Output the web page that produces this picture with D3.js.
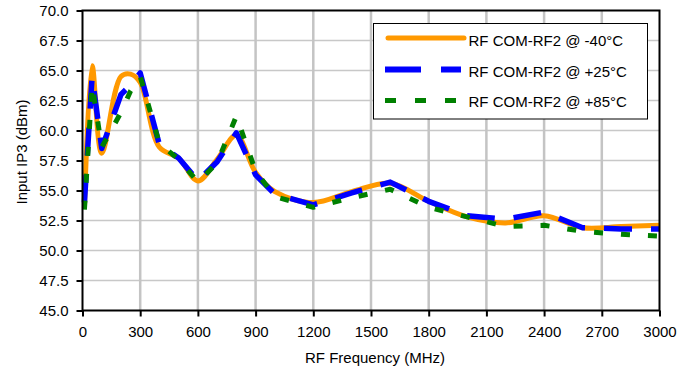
<!DOCTYPE html>
<html>
<head>
<meta charset="utf-8">
<script src="https://cdn.jsdelivr.net/npm/d3@7"></script>
<style>
  html, body { margin: 0; padding: 0; background: #fff; }
  svg { display: block; }
  text { font-family: "Liberation Sans", Arial, sans-serif; fill: #000; }
</style>
</head>
<body>
<svg id="chart" width="694" height="374"></svg>
<script>
// ---- data ----
const freqs = [10, 50, 100, 200, 250, 300, 400, 500, 600, 700, 800, 900, 1000, 1200, 1400, 1600, 1800, 2000, 2200, 2400, 2600, 2800, 3000];
const ip3_m40 = [53.5, 65.4, 58.1, 64.5, 64.7, 64.0, 58.6, 57.7, 55.8, 57.6, 59.6, 56.5, 54.9, 54.0, 54.9, 55.6, 54.1, 52.8, 52.3, 52.9, 51.9, 52.0, 52.1];
const ip3_p25 = [54.0, 64.5, 58.5, 63.0, 63.8, 64.8, 58.8, 57.7, 55.8, 57.4, 59.8, 56.3, 54.7, 53.8, 54.8, 55.7, 54.1, 52.9, 52.6, 53.2, 51.9, 51.8, 51.8];
const ip3_p85 = [53.4, 63.8, 58.6, 61.5, 63.3, 64.5, 58.9, 57.6, 55.7, 57.3, 61.2, 56.6, 54.5, 53.6, 54.4, 55.1, 53.6, 52.8, 52.0, 52.1, 51.6, 51.35, 51.2];
const seriesNames = ["RF COM-RF2 @ -40°C", "RF COM-RF2 @ +25°C", "RF COM-RF2 @ +85°C"];
const xTicks = [0, 300, 600, 900, 1200, 1500, 1800, 2100, 2400, 2700, 3000];
const yTicks = [45, 47.5, 50, 52.5, 55, 57.5, 60, 62.5, 65, 67.5, 70];
const xTitle = "RF Frequency (MHz)";
const yTitle = "Input IP3 (dBm)";

// ---- layout ----
const L = 82.5, R = 659.5, T = 10.5, B = 310.5;
const svg = d3.select("#chart");
const x = d3.scaleLinear().domain([0, 3000]).range([L, R]);
const y = d3.scaleLinear().domain([45, 70]).range([B, T]);

// grid
svg.append("g").selectAll("line").data(yTicks.slice(1, -1)).join("line")
  .attr("x1", L).attr("x2", R).attr("y1", d => y(d)).attr("y2", d => y(d))
  .attr("stroke", "#c8c8c8").attr("stroke-width", 1.5);
svg.append("g").selectAll("line").data(xTicks.slice(1, -1)).join("line")
  .attr("y1", T).attr("y2", B).attr("x1", d => x(d)).attr("x2", d => x(d))
  .attr("stroke", "#c4c4c4").attr("stroke-width", 2.5);

// axes
const xAxis = svg.append("g").attr("transform", `translate(0,${B})`)
  .call(d3.axisBottom(x).tickValues(xTicks).tickFormat(d3.format("d")).tickSize(6).tickPadding(10));
const yAxis = svg.append("g").attr("transform", `translate(${L},0)`)
  .call(d3.axisLeft(y).tickValues(yTicks).tickFormat(d3.format(".1f")).tickSize(6).tickPadding(8));
[xAxis, yAxis].forEach(a => {
  a.select(".domain").remove();
  a.selectAll("line").attr("stroke", "#000").attr("stroke-width", 2);
  a.selectAll("text").attr("font-size", 15).attr("fill", "#000")
    .style("font-family", '"Liberation Sans", Arial, sans-serif');
});

// series
const series = [
  { name: seriesNames[0], vals: ip3_m40, color: "#ff9900", dash: null, curve: d3.curveCatmullRom.alpha(0.5), w: 5 },
  { name: seriesNames[1], vals: ip3_p25, color: "#0000ff", dash: "28,19", curve: d3.curveLinear, w: 5.5 },
  { name: seriesNames[2], vals: ip3_p85, color: "#008000", dash: "9,18", curve: d3.curveLinear, w: 5 }
];
series.forEach(s => {
  const line = d3.line().x((d, i) => x(freqs[i])).y(d => y(d)).curve(s.curve);
  svg.append("path").datum(s.vals).attr("d", line)
    .attr("fill", "none").attr("stroke", s.color).attr("stroke-width", s.w)
    .attr("stroke-linejoin", "round")
    .attr("stroke-dasharray", s.dash);
});

// plot border
svg.append("rect").attr("x", L).attr("y", T).attr("width", R - L).attr("height", B - T)
  .attr("fill", "none").attr("stroke", "#000").attr("stroke-width", 2);

// legend
const lg = svg.append("g");
lg.append("rect").attr("x", 373.5).attr("y", 23.5).attr("width", 274).attr("height", 95.5)
  .attr("fill", "#fff").attr("stroke", "#000").attr("stroke-width", 1);
const rowY = [38, 69.5, 100.5];
series.forEach((s, i) => {
  lg.append("line").attr("x1", 388).attr("x2", 464).attr("y1", rowY[i]).attr("y2", rowY[i])
    .attr("stroke", s.color).attr("stroke-width", i === 0 ? 5 : (i === 1 ? 6 : 5))
    .attr("stroke-linecap", i === 0 ? "round" : "butt")
    .attr("stroke-dasharray", i === 1 ? "36,20" : (i === 2 ? "11,19" : null))
    .attr("transform", i === 0 ? null : "translate(-3,0)");
  lg.append("text").attr("x", 468.5).attr("y", [45.7, 76.7, 106.7][i])
    .attr("font-size", 15).text(s.name);
});

// titles
svg.append("text").attr("x", (L + R) / 2 + 4).attr("y", 363).attr("text-anchor", "middle")
  .attr("font-size", 15).text(xTitle);
svg.append("text").attr("transform", "translate(27,152) rotate(-90)").attr("text-anchor", "middle")
  .attr("font-size", 15).text(yTitle);
</script>
</body>
</html>
